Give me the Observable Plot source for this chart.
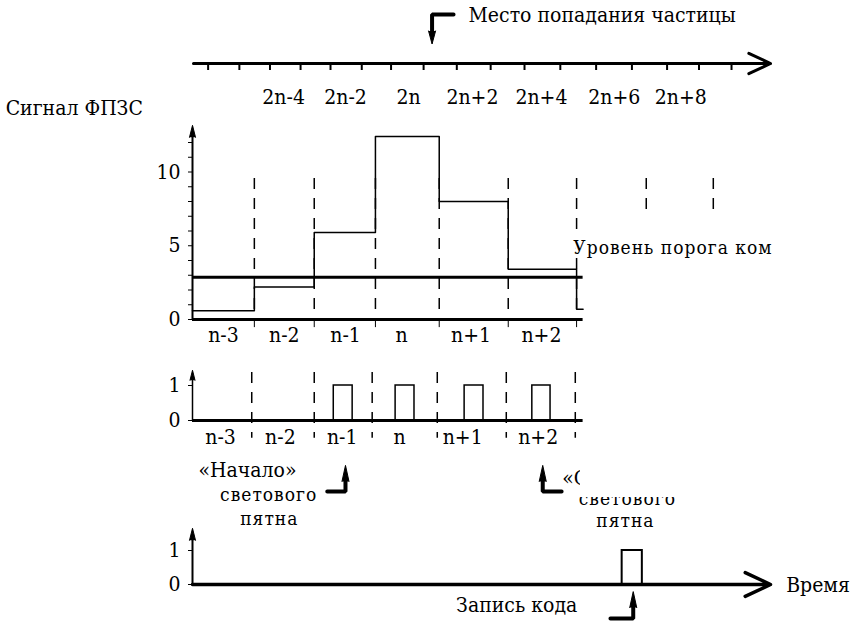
<!DOCTYPE html>
<html><head><meta charset="utf-8">
<script src="https://cdn.jsdelivr.net/npm/d3@7"></script>
<script src="https://cdn.jsdelivr.net/npm/@observablehq/plot@0.6"></script>
<style>
body{margin:0;background:#fff;}
#chart{position:relative;width:854px;height:624px;}
#chart svg{position:absolute;left:0;top:0;}
</style></head><body><div id="chart"></div>
<script>
// ---------- data ----------
// cell boundaries along the time axis (cell units)
const cellEdges = [0, 0.95, 1.87, 2.81, 3.79, 4.85, 5.90, 6.97, 8.00];
const dashTop = 9.56;
const dashBottom = [0.07, 0.07, 0.07, 0.07, 0.07, 0.07, 7.19, 7.19];
const cellLabels = ["n-3", "n-2", "n-1", "n", "n+1", "n+2"];
const cellLabelPos = [0.475, 1.41, 2.35, 3.21, 4.28, 5.36];
const signalLevels = [0.6, 2.2, 5.9, 12.4, 8.0, 3.4, 0.7];
const signalEnd = 6.0;
const thresholdLevel = 2.87;
const signalTicks = [0,1,2,3,4,5,6,7,8,9,10,11,12];
const signalTickLabels = [0, 5, 10];
const signalAxisTop = 13.15;

// top coordinate axis (particle position)
const topTicks = [0.24, 0.72, 1.19, 1.66, 2.12, 2.60, 3.05, 3.55, 4.06, 4.58, 5.10, 5.65, 6.20, 6.75, 7.29, 7.78, 8.28];
const topLabels = ["2n-4", "2n-2", "2n", "2n+2", "2n+4", "2n+6", "2n+8"];
const topLabelPos = [1.40, 2.35, 3.32, 4.30, 5.36, 6.48, 7.50];
const topAxisEnd = 8.88;
const hitPos = 3.68;

// comparator pulses
const pulseEdges = [0.91, 1.87, 2.76, 3.76, 4.82, 5.88];
const pulseStart = [2.17, 3.12, 4.18, 5.22];
const pulseEnd = [2.46, 3.41, 4.47, 5.50];
const pulseLabelPos = [0.43, 1.35, 2.30, 3.18, 4.15, 5.31];
const startMark = 2.35;   // «Начало» светового пятна
const endMark = 5.38;     // «С…» светового пятна

// code write pulse
const codeStart = 6.60, codeEnd = 6.91;
const codeMark = 6.77;
const timeAxisEnd = 8.88;

// ---------- layout ----------
const W = 854, H = 624, ML = 192, MR = W - ML - 65.1 * 8;
const FONT = "'DejaVu Serif Condensed', 'DejaVu Serif', serif";
const baseStyle = {fontSize: "21px", background: "transparent", overflow: "visible", color: "black"};
const dash = "11,9";

function panel(yDomain, mt, mb, marks, yAxisNull) {
  return Plot.plot({
    width: W, height: H, marginLeft: ML, marginRight: MR, marginTop: mt, marginBottom: mb,
    x: {domain: [0, 8], axis: null},
    y: yAxisNull ? {domain: yDomain, axis: null} : {domain: yDomain},
    style: baseStyle,
    marks
  });
}
const spike = (data, o) => Plot.vector(data, {shape: "spike", anchor: "start", fill: "black", stroke: "black", strokeWidth: 1, ...o});
const intFmt = d => String(d);

// Panel A: particle position axis (y: 1 unit = 10px, axis at 0)
const A = panel([0, 6.3], 0, H - 63, [
  Plot.arrow([0], {x1: 0.015, x2: topAxisEnd, y1: 0, y2: 0, strokeWidth: 3, headLength: 12, headAngle: 50}),
  Plot.ruleX(topTicks, {x: d => d, y1: 0, y2: -0.7, strokeWidth: 2}),
  Plot.text(topLabels, {x: (d, i) => topLabelPos[i], y: -3.4, text: d => d, lineAnchor: "middle"}),
  Plot.line([{x: 4.01, y: 4.9}, {x: hitPos, y: 4.9}, {x: hitPos, y: 3.2}], {x: "x", y: "y", strokeWidth: 4, strokeLinejoin: "miter"}),
  spike([0], {x: hitPos, y: 3.25, rotate: 180, length: 13, r: 3.5}),
  Plot.text(["Место попадания частицы"], {x: 4.24, y: 4.8, text: d => d, textAnchor: "start", lineAnchor: "middle"})
], true);

// Panel B: CCD signal (value 0 at y=319px, 14.75 px per unit)
const stepData = signalLevels.map((v, i) => ({x: cellEdges[i], y: v})).concat([{x: signalEnd, y: signalLevels[signalLevels.length - 1]}]);
const B = panel([0, 14], 319 - 14 * 14.75, H - 319, [
  Plot.ruleX(cellEdges.slice(1), {x: d => d, y1: dashTop, y2: (d, i) => dashBottom[i], strokeDasharray: dash, strokeWidth: 1.5}),
  Plot.ruleX([0], {x: d => d, y1: 0, y2: signalAxisTop - 0.6, strokeWidth: 2}),
  spike([0], {x: 0, y: signalAxisTop - 0.8, length: 12, r: 3}),
  Plot.axisY({ticks: signalTicks, tickSize: 4, tickPadding: 8, label: null, tickFormat: d => signalTickLabels.includes(d) ? String(d) : ""}),
  Plot.ruleX(cellEdges.slice(1, 7), {x: d => d, y1: 0, y2: -0.55, strokeWidth: 1}),
  Plot.line(stepData, {x: "x", y: "y", curve: "step-after", strokeWidth: 1.5}),
  Plot.ruleY([thresholdLevel], {y: d => d, x1: 0, x2: signalEnd, strokeWidth: 3}),
  Plot.ruleY([0], {y: d => d, x1: 0, x2: signalEnd, strokeWidth: 3}),
  Plot.text(cellLabels, {x: (d, i) => cellLabelPos[i], y: -1.08, text: d => d, lineAnchor: "middle"}),
  Plot.text(["Сигнал ФПЗС"], {x: -2.87, y: 14.3, text: d => d, textAnchor: "start", lineAnchor: "middle"}),
  Plot.text(["Уровень порога ком"], {x: 5.85, y: 4.88, text: d => d, textAnchor: "start", lineAnchor: "middle", fontSize: 19, stroke: "white", strokeWidth: 4, fill: "black"})
]);

// Panel C: comparator output (0 at 420px, 1 at 385px)
const pulses = pulseStart.map((s, i) => ({x1: s, x2: pulseEnd[i]}));
const C = panel([0, 1], 385, H - 420, [
  Plot.ruleX(pulseEdges, {x: d => d, y1: 1.37, y2: -0.51, strokeDasharray: dash, strokeWidth: 1.5}),
  Plot.ruleX([0], {x: d => d, y1: 0, y2: 1.2, strokeWidth: 1.5}),
  spike([0], {x: 0, y: 1.15, length: 10, r: 2.5}),
  Plot.axisY({ticks: [0, 1], tickSize: 4, tickPadding: 8, label: null, tickFormat: intFmt}),
  Plot.rect(pulses, {x1: "x1", x2: "x2", y1: 0, y2: 1, fill: "white", stroke: "black", strokeWidth: 1.5}),
  Plot.ruleY([0], {y: d => d, x1: 0, x2: 6.0, strokeWidth: 3}),
  Plot.text(cellLabels, {x: (d, i) => pulseLabelPos[i], y: -0.49, text: d => d, lineAnchor: "middle"}),
  // annotations below
  Plot.line([{x: 2.07, y: -2.03}, {x: startMark, y: -2.03}, {x: startMark, y: -1.72}], {x: "x", y: "y", strokeWidth: 4, strokeLinejoin: "miter"}),
  spike([0], {x: startMark, y: -1.74, length: 16, r: 3.5}),
  Plot.line([{x: 5.67, y: -2.03}, {x: endMark, y: -2.03}, {x: endMark, y: -1.72}], {x: "x", y: "y", strokeWidth: 4, strokeLinejoin: "miter"}),
  spike([0], {x: endMark, y: -1.74, length: 16, r: 3.5}),
  Plot.text(["«Начало»"], {x: 0.845, y: -1.43, text: d => d, lineAnchor: "middle"}),
  Plot.text(["светового", "пятна"], {x: [1.17, 1.18], y: [-2.14, -2.8], text: d => d, lineAnchor: "middle", fontSize: 19}),
  Plot.text(["«С"], {x: 5.68, y: -1.66, text: d => d, textAnchor: "start", lineAnchor: "middle"}),
  Plot.text(["светового", "пятна"], {x: [6.68, 6.65], y: [-2.23, -2.86], text: d => d, lineAnchor: "middle", fontSize: 19}),
  Plot.rect([0], {x1: 5.96, x2: 7.9, y1: -1.15, y2: -2.2, fill: "white"})
]);

// Panel D: code write (0 at 584px, 1 at 550px)
const D = panel([0, 1], 550, H - 584, [
  Plot.ruleX([0], {x: d => d, y1: 0, y2: 1.3, strokeWidth: 2}),
  spike([0], {x: 0, y: 1.3, length: 12, r: 3}),
  Plot.axisY({ticks: [0, 1], tickSize: 4, tickPadding: 8, label: null, tickFormat: intFmt}),
  Plot.rect([0], {x1: codeStart, x2: codeEnd, y1: 0, y2: 1, fill: "white", stroke: "black", strokeWidth: 2}),
  Plot.arrow([0], {x1: 0, x2: timeAxisEnd, y1: 0, y2: 0, strokeWidth: 3.5, headLength: 12, headAngle: 50}),
  Plot.text(["Время"], {x: 9.12, y: -0.03, text: d => d, textAnchor: "start", lineAnchor: "middle"}),
  Plot.text(["Запись кода"], {x: 4.98, y: -0.62, text: d => d, lineAnchor: "middle"}),
  Plot.line([{x: 6.42, y: -1.0}, {x: codeMark, y: -1.0}, {x: codeMark, y: -0.66}], {x: "x", y: "y", strokeWidth: 4, strokeLinejoin: "miter"}),
  spike([0], {x: codeMark, y: -0.68, length: 16, r: 3.5})
]);

const root = document.getElementById("chart");
for (const p of [A, B, C, D]) {
  p.style.fontFamily = FONT;
  p.style.fontStretch = "condensed";
  root.appendChild(p);
}
d3.select(root).selectAll("g, text").attr("font-family", FONT).style("font-family", FONT).style("font-stretch", "condensed");
// wide letter spacing for the lighter captions
d3.select(root).selectAll("text").filter(function() {
  return ["Уровень порога ком", "светового", "пятна"].includes(this.textContent);
}).attr("letter-spacing", "1");
</script></body></html>
